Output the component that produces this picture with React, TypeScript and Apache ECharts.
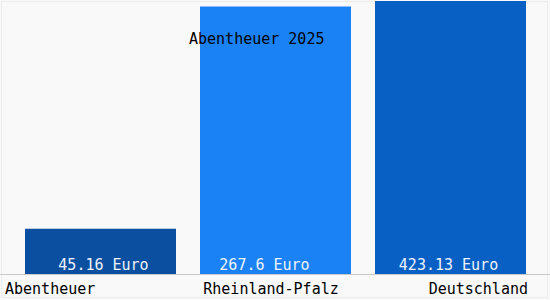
import React, { useEffect, useRef } from "react";
import * as echarts from "echarts";

const categories = ["Abentheuer", "Rheinland-Pfalz", "Deutschland"];
const values = [45.16, 267.6, 423.13];
const unit = "Euro";
const titleText = "Abentheuer 2025";
const barColors = ["#0b4fa0", "#1a82f5", "#0860c4"];

export default function App() {
  const ref = useRef<HTMLDivElement>(null);
  useEffect(() => {
    if (!ref.current) return;
    const chart = echarts.init(ref.current, null, { renderer: "svg" });
    const font = "'DejaVu Sans Mono', monospace";
    const labelOffsets = [[3, 0], [-11, 0], [-2, 0]];
    chart.setOption({
      animation: false,
      backgroundColor: "#f9f9f9",
      title: {
        text: titleText,
        left: 184,
        top: 26,
        textStyle: { fontFamily: font, fontSize: 15, fontWeight: "normal", color: "#000" },
        z: 10,
      },
      grid: [
        { left: 13, width: 525, top: 1, bottom: 26 },
        { left: 0, right: 0, top: 1, bottom: 26 },
      ],
      xAxis: [
        {
          type: "category",
          gridIndex: 0,
          data: categories,
          axisLine: { show: false },
          axisTick: { show: false },
          axisLabel: { show: false },
        },
        {
          type: "category",
          gridIndex: 1,
          data: categories,
          boundaryGap: false,
          axisLine: { show: true, lineStyle: { color: "#c8c8c8", width: 1 } },
          axisTick: { show: false },
          axisLabel: {
            margin: 7,
            alignMinLabel: "left",
            alignMaxLabel: "right",
            fontFamily: font,
            fontSize: 15,
            color: "#000",
            formatter: (v: string, i: number) => `{${["a", "b", "c"][i]}|${v}}`,
            rich: {
              a: { fontFamily: font, fontSize: 15, color: "#000", padding: [0, 0, 0, 5] },
              b: { fontFamily: font, fontSize: 15, color: "#000", padding: [0, 8, 0, 0] },
              c: { fontFamily: font, fontSize: 15, color: "#000", padding: [0, 22, 0, 0] },
            },
          },
        },
      ],
      yAxis: [
        { type: "value", gridIndex: 0, min: 0, max: 273, show: false },
        { type: "value", gridIndex: 1, min: 0, max: 273, show: false },
      ],
      graphic: [
        {
          type: "rect",
          shape: { x: 1.5, y: 1.5, width: 546, height: 296 },
          style: { fill: "none", stroke: "#ececec", lineWidth: 1 },
          silent: true,
          z: -1,
        },
      ],
      series: [
        {
          type: "bar",
          xAxisIndex: 0,
          yAxisIndex: 0,
          barWidth: 151,
          clip: true,
          data: values.map((v, i) => ({
            value: v,
            itemStyle: { color: barColors[i] },
            label: { offset: labelOffsets[i] },
          })),
          label: {
            show: true,
            position: "insideBottom",
            distance: 2,
            formatter: (p: any) => `${p.value} ${unit}`,
            fontFamily: font,
            fontSize: 15,
            color: "#eef3fb",
          },
        },
      ],
    });
    return () => chart.dispose();
  }, []);
  return (
    <div
      ref={ref}
      style={{ position: "fixed", left: 0, top: 0, width: 550, height: 300 }}
    />
  );
}
